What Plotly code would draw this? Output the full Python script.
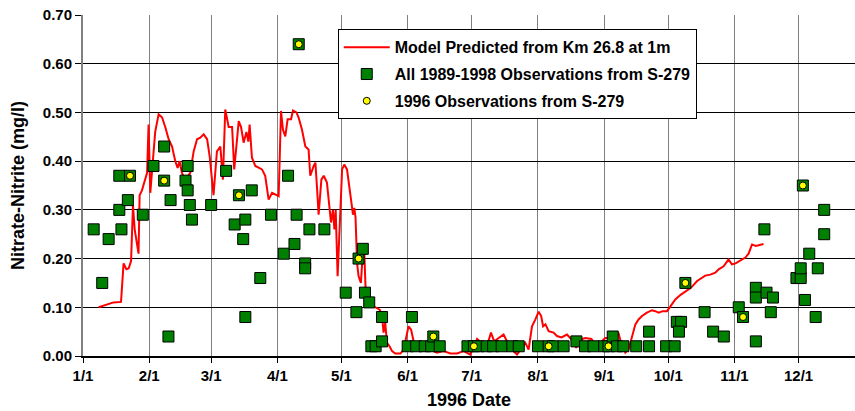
import pandas as pd
import plotly.graph_objects as go

# ---------------- data (days after 1996-01-01, values in mg/l) ----------------
model_days = [7.3, 14.3, 17.8, 19.0, 20.3, 21.4, 22.5, 22.9, 23.4, 24.2, 26.0, 26.5, 27.6, 30.0,
              30.7, 31.5, 32.3, 33.8, 35.4, 37.0, 38.5, 40.1, 41.7, 43.2, 44.3, 45.2, 46.3, 47.9,
              50.2, 51.8, 53.4, 54.9, 56.5, 58.1, 59.3, 61.1, 62.7, 64.3, 65.5, 66.6, 68.2, 69.8,
              70.8, 72.9, 74.0, 75.2, 76.5, 77.4, 78.0, 79.1, 80.7, 82.2, 83.8, 85.3, 86.9, 88.5,
              91.6, 92.7, 93.6, 94.7, 95.8, 97.4, 98.3, 99.9, 100.9, 102.5, 104.1, 105.6, 106.4,
              108.0, 108.8, 109.5, 110.3, 111.6, 112.7, 114.2, 116.1, 117.0, 117.7, 118.3, 119.2,
              121.3, 122.3, 123.6, 124.8, 125.5, 126.4, 127.0, 127.6, 128.3, 129.0, 130.1, 131.1,
              131.7, 132.3, 133.0, 134.5, 136.0, 137.6, 138.9, 140.0, 140.7, 141.5, 142.3, 143.5,
              144.7, 146.2, 148.6, 150.1, 151.4, 152.4, 153.6, 154.8, 156.0, 157.9, 162.6, 165.7,
              168.8, 172.0, 175.1, 178.2, 181.3, 184.5, 187.0, 189.1, 191.0, 192.5, 194.6, 196.9,
              198.5, 200.8, 203.2, 205.0, 207.1, 208.6, 210.2, 211.8, 213.3, 214.5, 215.4, 216.5,
              218.0, 220.3, 221.9, 224.0, 226.6, 228.5, 230.9, 232.8, 235.2, 238.0, 240.6, 243.7,
              244.5, 247.0, 249.0, 250.7, 251.7, 252.8, 253.9, 255.5, 257.0, 258.6, 260.1, 261.7,
              264.0, 266.4, 267.9, 269.5, 271.4, 273.4, 275.0, 277.3, 279.9, 282.2, 284.6, 287.5,
              289.8, 291.3, 293.7, 296.0, 297.6, 299.9, 302.2, 303.8, 305.5, 307.7, 310.1, 311.6,
              313.2, 315.0, 317.1, 318.6]
model_vals = [0.100, 0.110, 0.111, 0.190, 0.178, 0.180, 0.195, 0.270, 0.310, 0.260, 0.210, 0.330,
              0.340, 0.376, 0.475, 0.335, 0.380, 0.460, 0.496, 0.490, 0.470, 0.445, 0.430, 0.400,
              0.386, 0.400, 0.376, 0.362, 0.376, 0.420, 0.445, 0.448, 0.455, 0.445, 0.410, 0.330,
              0.420, 0.430, 0.362, 0.506, 0.470, 0.470, 0.383, 0.482, 0.470, 0.438, 0.460, 0.440,
              0.475, 0.407, 0.390, 0.386, 0.383, 0.370, 0.321, 0.335, 0.328, 0.503, 0.465, 0.451,
              0.486, 0.486, 0.504, 0.500, 0.490, 0.465, 0.430, 0.424, 0.370, 0.390, 0.397, 0.349,
              0.290, 0.362, 0.370, 0.356, 0.274, 0.300, 0.260, 0.300, 0.164, 0.383, 0.393, 0.383,
              0.342, 0.315, 0.290, 0.304, 0.284, 0.191, 0.164, 0.150, 0.219, 0.212, 0.137, 0.109,
              0.109, 0.102, 0.099, 0.095, 0.082, 0.048, 0.068, 0.027, 0.020, 0.010, 0.005, 0.005,
              0.013, 0.044, 0.061, 0.054, 0.030, 0.017, 0.010, 0.013, 0.007, 0.010, 0.005, 0.005,
              0.010, 0.003, 0.035, 0.025, 0.020, 0.048, 0.030, 0.037, 0.044, 0.030, 0.013, 0.003,
              0.015, 0.027, 0.013, 0.061, 0.075, 0.091, 0.082, 0.061, 0.065, 0.051, 0.048, 0.041,
              0.038, 0.044, 0.035, 0.017, 0.034, 0.037, 0.035, 0.020, 0.034, 0.037, 0.037, 0.030,
              0.048, 0.030, 0.020, 0.007, 0.015, 0.040, 0.065, 0.075, 0.082, 0.089, 0.094, 0.092,
              0.089, 0.092, 0.092, 0.102, 0.116, 0.126, 0.133, 0.140, 0.154, 0.160, 0.165, 0.167,
              0.171, 0.178, 0.184, 0.198, 0.188, 0.190, 0.195, 0.202, 0.210, 0.229, 0.226, 0.229,
              0.230]

all_days = [5, 9, 12, 17, 17, 18, 21, 22, 28, 33, 38, 38, 40, 41, 48, 49, 49, 50, 51, 60,
            67, 71, 73, 75, 76, 76, 79, 83, 88, 94, 96, 99, 100, 101, 104, 104, 106, 113,
            123, 128, 129, 131, 132, 134, 135, 137, 140, 140,
            152, 154, 156, 160, 163, 164, 167,
            180, 183, 185, 189, 192, 196, 201, 204,
            213, 218, 220, 225, 231, 235, 239, 244,
            246, 248, 250, 253, 259, 265, 265, 273, 277,
            278, 280, 279, 282, 291, 295, 300, 307, 309,
            315, 315, 315, 319, 320, 322, 323,
            334, 336, 336, 337, 338, 340, 343, 344, 347, 347]
all_vals = [0.26, 0.15, 0.24, 0.37, 0.30, 0.26, 0.32, 0.37, 0.29, 0.39, 0.43, 0.36, 0.04, 0.32,
            0.36, 0.39, 0.34, 0.31, 0.28, 0.31,
            0.38, 0.27, 0.33, 0.24, 0.28, 0.08, 0.34, 0.16, 0.29, 0.21, 0.37, 0.23, 0.29, 0.64,
            0.19, 0.18, 0.26, 0.26,
            0.13, 0.09, 0.20, 0.22, 0.13, 0.11, 0.02, 0.02, 0.08, 0.03,
            0.02, 0.08, 0.02, 0.02, 0.02, 0.04, 0.02,
            0.02, 0.02, 0.02, 0.02, 0.02, 0.02, 0.02, 0.02,
            0.02, 0.02, 0.02, 0.02, 0.03, 0.02, 0.02, 0.02,
            0.02, 0.04, 0.02, 0.02, 0.02, 0.05, 0.02, 0.02, 0.02,
            0.07, 0.07, 0.05, 0.15, 0.09, 0.05, 0.04, 0.10, 0.08,
            0.14, 0.12, 0.03, 0.26, 0.13, 0.09, 0.12,
            0.16, 0.16, 0.18, 0.35, 0.115, 0.21, 0.08, 0.18, 0.30, 0.25]

obs96_days = [22, 38, 73, 101, 129, 164, 183, 218, 246, 282, 309, 337]
obs96_vals = [0.37, 0.36, 0.33, 0.64, 0.20, 0.04, 0.02, 0.02, 0.02, 0.15, 0.08, 0.35]

month_ticks = ["1996-%02d-01" % m for m in range(1, 13)]
month_labels = ["1/1", "2/1", "3/1", "4/1", "5/1", "6/1", "7/1", "8/1", "9/1", "10/1", "11/1", "12/1"]

start = pd.Timestamp("1996-01-01")


def to_dates(days):
    return [start + pd.Timedelta(days=d) for d in days]


FONT = "Liberation Sans, Arial, sans-serif"

fig = go.Figure()
fig.add_trace(go.Scatter(
    x=to_dates(model_days), y=model_vals, mode="lines",
    name="Model Predicted from Km 26.8 at 1m", legendgroup="a",
    line=dict(color="#FF0000", width=2)))
fig.add_trace(go.Scatter(
    x=to_dates(all_days), y=all_vals, mode="markers",
    name="All 1989-1998 Observations from S-279", legendgroup="b",
    marker=dict(symbol="square", size=11, color="#008000", line=dict(color="#000000", width=1))))
fig.add_trace(go.Scatter(
    x=to_dates(obs96_days), y=obs96_vals, mode="markers",
    name="1996 Observations from S-279", legendgroup="c",
    marker=dict(symbol="circle", size=7, color="#FFFF00", line=dict(color="#000000", width=1))))

fig.update_layout(
    width=855, height=411,
    margin=dict(l=83, r=0, t=15, b=55),
    paper_bgcolor="white", plot_bgcolor="white",
    font=dict(family=FONT, color="black"),
    showlegend=True,
    legend=dict(x=0.330, y=0.958, xanchor="left", yanchor="top",
                bgcolor="white", bordercolor="black", borderwidth=1,
                font=dict(family=FONT, size=16, weight="bold", color="black"),
                tracegroupgap=3, itemwidth=46, traceorder="grouped"),
    xaxis=dict(
        type="date", automargin=False,
        range=["1996-01-01", "1996-12-27 10:00"],
        tickmode="array", tickvals=month_ticks, ticktext=month_labels,
        showgrid=True, gridcolor="#808080", gridwidth=1,
        showline=True, linecolor="black", linewidth=2,
        ticks="outside", ticklen=5, tickcolor="black",
        tickfont=dict(family=FONT, size=15, weight="bold"),
        title=dict(text="1996 Date", font=dict(family=FONT, size=18, weight="bold"), standoff=10),
        zeroline=False),
    yaxis=dict(
        automargin=False,
        range=[0, 0.7], dtick=0.1, tick0=0, tickformat=".2f",
        showgrid=True, gridcolor="black", gridwidth=1,
        showline=True, linecolor="#808080", linewidth=2,
        ticks="outside", ticklen=6, tickcolor="black",
        tickfont=dict(family=FONT, size=15, weight="bold"),
        title=dict(text="Nitrate-Nitrite (mg/l)", font=dict(family=FONT, size=18, weight="bold"), standoff=13),
        zeroline=False),
)

fig.write_html("out.html", config={"displayModeBar": False},
               post_script="document.body.style.margin='0';document.body.style.padding='0';")
